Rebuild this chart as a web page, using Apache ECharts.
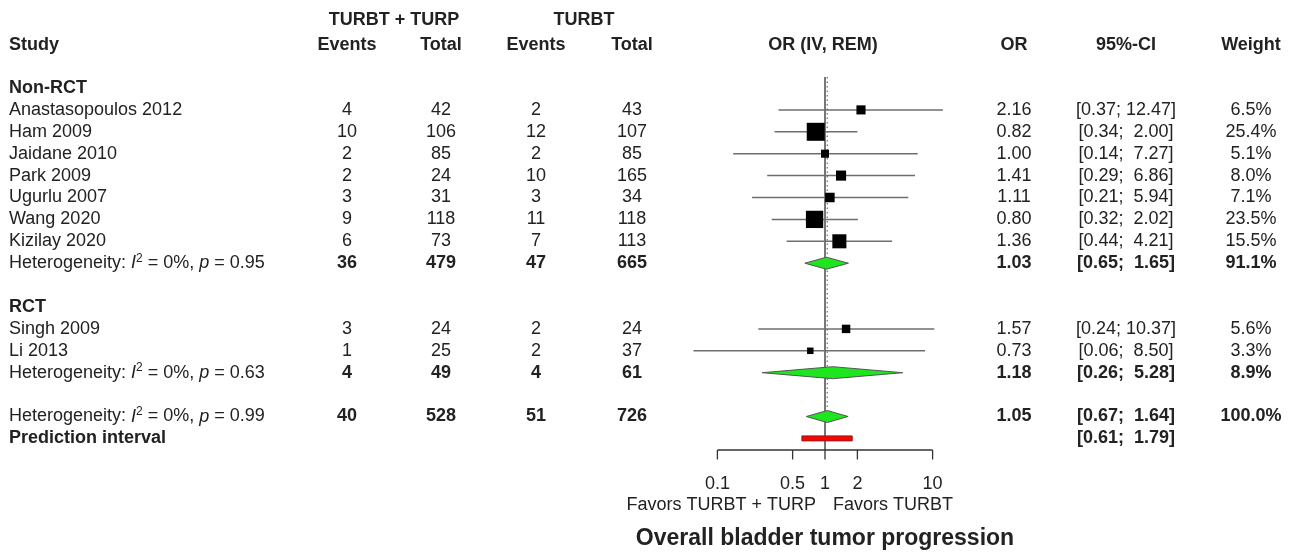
<!DOCTYPE html>
<html>
<head>
    <meta charset="utf-8">
    <style>
        html, body {
            height: 100%;
            margin: 0;
            padding: 0;
            background: #fff;
        }

        .container {
            width: 1293px;
            height: 554px;
        }
    </style>
</head>
<body>
<div id="main" class="container"></div>

<script src="https://cdn.jsdelivr.net/npm/echarts@6/dist/echarts.min.js"></script>
<script type="text/javascript">
// study level data
var studies = ['Anastasopoulos 2012', 'Ham 2009', 'Jaidane 2010', 'Park 2009', 'Ugurlu 2007', 'Wang 2020', 'Kizilay 2020', 'Singh 2009', 'Li 2013'];
var studyGroup = [0, 0, 0, 0, 0, 0, 0, 1, 1];
var eventsExp = [4, 10, 2, 2, 3, 9, 6, 3, 1];
var totalExp = [42, 106, 85, 24, 31, 118, 73, 24, 25];
var eventsCtl = [2, 12, 2, 10, 3, 11, 7, 2, 2];
var totalCtl = [43, 107, 85, 165, 34, 118, 113, 24, 37];
var oddsRatio = [2.16, 0.82, 1.00, 1.41, 1.11, 0.80, 1.36, 1.57, 0.73];
var ciLower = [0.37, 0.34, 0.14, 0.29, 0.21, 0.32, 0.44, 0.24, 0.06];
var ciUpper = [12.47, 2.00, 7.27, 6.86, 5.94, 2.02, 4.21, 10.37, 8.50];
var weights = [6.5, 25.4, 5.1, 8.0, 7.1, 23.5, 15.5, 5.6, 3.3];

// subgroup summaries
var groups = ['Non-RCT', 'RCT'];
var groupI2 = [0, 0];
var groupP = [0.95, 0.63];
var groupEventsExp = [36, 4];
var groupTotalExp = [479, 49];
var groupEventsCtl = [47, 4];
var groupTotalCtl = [665, 61];
var groupOR = [1.03, 1.18];
var groupLower = [0.65, 0.26];
var groupUpper = [1.65, 5.28];
var groupWeight = [91.1, 8.9];

// overall
var overallI2 = 0;
var overallP = 0.99;
var overallCounts = [40, 528, 51, 726];
var overallOR = [1.05, 0.67, 1.64];
var overallWeight = 100.0;
var predInterval = [0.61, 1.79];

var axisTicks = [0.1, 0.5, 1, 2, 10];
var favorsLabels = ['Favors TURBT + TURP', 'Favors TURBT'];
var chartTitle = 'Overall bladder tumor progression';

var FONT = '"Liberation Sans", Arial, sans-serif';
var TEXT = '#222';

// column x positions (px)
var col = {study: 9, evE: 347, totE: 441, evC: 536, totC: 632, or: 1014, ci: 1126, w: 1251};

// row layout
var r = 0;
var studyRows = [], groupHeadRows = [], groupSumRows = [];
for (var g = 0; g < groups.length; g++) {
    groupHeadRows.push(r); r++;
    for (var i = 0; i < studies.length; i++) {
        if (studyGroup[i] === g) { studyRows[i] = r; r++; }
    }
    groupSumRows.push(r); r++;
    r++;
}
var overallRow = r;
var predRow = r + 1;
var axisRow = 16.53;

function fmt(v) { return v.toFixed(2); }
function pad(s, n) { while (s.length < n) s = ' ' + s; return s; }
function ciText(lo, hi) { return '[' + fmt(lo) + '; ' + pad(fmt(hi), 5) + ']'; }

var rich = {
    n: {fontSize: 18, fontFamily: FONT, fill: TEXT, lineHeight: 22},
    i: {fontSize: 18, fontFamily: FONT, fontStyle: 'italic', fill: TEXT, lineHeight: 22},
    s: {fontSize: 12, fontFamily: FONT, fill: TEXT, verticalAlign: 'top', lineHeight: 22, padding: [0, 0, 9, 0]}
};
function hetText(i2, p) {
    return '{n|Heterogeneity: }{i|I}{s|2}{n| = ' + i2 + '%, }{i|p}{n| = ' + p.toFixed(2) + '}';
}

// text items
var texts = [];
function addText(row, x, text, align, bold, extra) {
    var t = {row: row, x: x, text: String(text), align: align || 'center', bold: !!bold};
    if (extra) for (var k in extra) t[k] = extra[k];
    texts.push(t);
}
addText(-3.1, (col.evE + col.totE) / 2, 'TURBT + TURP', 'center', true);
addText(-3.1, (col.evC + col.totC) / 2, 'TURBT', 'center', true);
addText(-1.96, col.study, 'Study', 'left', true);
addText(-1.96, col.evE, 'Events', 'center', true);
addText(-1.96, col.totE, 'Total', 'center', true);
addText(-1.96, col.evC, 'Events', 'center', true);
addText(-1.96, col.totC, 'Total', 'center', true);
addText(-1.96, 823, 'OR (IV, REM)', 'center', true);
addText(-1.96, col.or, 'OR', 'center', true);
addText(-1.96, col.ci, '95%-CI', 'center', true);
addText(-1.96, col.w, 'Weight', 'center', true);

for (var i = 0; i < studies.length; i++) {
    var rr = studyRows[i];
    addText(rr, col.study, studies[i], 'left');
    addText(rr, col.evE, eventsExp[i]);
    addText(rr, col.totE, totalExp[i]);
    addText(rr, col.evC, eventsCtl[i]);
    addText(rr, col.totC, totalCtl[i]);
    addText(rr, col.or, fmt(oddsRatio[i]));
    addText(rr, col.ci, ciText(ciLower[i], ciUpper[i]));
    addText(rr, col.w, weights[i].toFixed(1) + '%');
}
for (var g = 0; g < groups.length; g++) {
    addText(groupHeadRows[g], col.study, groups[g], 'left', true);
    var gr = groupSumRows[g];
    addText(gr, col.study, hetText(groupI2[g], groupP[g]), 'left', false, {rich: true});
    addText(gr, col.evE, groupEventsExp[g], 'center', true);
    addText(gr, col.totE, groupTotalExp[g], 'center', true);
    addText(gr, col.evC, groupEventsCtl[g], 'center', true);
    addText(gr, col.totC, groupTotalCtl[g], 'center', true);
    addText(gr, col.or, fmt(groupOR[g]), 'center', true);
    addText(gr, col.ci, ciText(groupLower[g], groupUpper[g]), 'center', true);
    addText(gr, col.w, groupWeight[g].toFixed(1) + '%', 'center', true);
}
addText(overallRow, col.study, hetText(overallI2, overallP), 'left', false, {rich: true});
addText(overallRow, col.evE, overallCounts[0], 'center', true);
addText(overallRow, col.totE, overallCounts[1], 'center', true);
addText(overallRow, col.evC, overallCounts[2], 'center', true);
addText(overallRow, col.totC, overallCounts[3], 'center', true);
addText(overallRow, col.or, fmt(overallOR[0]), 'center', true);
addText(overallRow, col.ci, ciText(overallOR[1], overallOR[2]), 'center', true);
addText(overallRow, col.w, overallWeight.toFixed(1) + '%', 'center', true);
addText(predRow, col.study, 'Prediction interval', 'left', true);
addText(predRow, col.ci, ciText(predInterval[0], predInterval[1]), 'center', true);

// axis-bound texts (x from the OR scale)
axisTicks.forEach(function (t) { addText(18.08, null, String(t), 'center', false, {xv: t}); });
addText(19.04, null, favorsLabels[0], 'right', false, {xv: 1, dx: -9});
addText(19.04, null, favorsLabels[1], 'left', false, {xv: 1, dx: 8});
addText(20.6, null, chartTitle, 'center', true, {xv: 1, size: 23});

var chart = echarts.init(document.getElementById('main'), null, {renderer: 'canvas'});

// pixel layout: x = 825 + 107.6*log10(v), y = 88 + 21.9*row
var pxPerDecade = 107.6, refX = 825;
var xMin = Math.pow(10, -refX / pxPerDecade);
var xMax = Math.pow(10, (1293 - refX) / pxPerDecade);
var rowH = 21.9, row0 = 88;
var yMin = -row0 / rowH;
var yMax = (554 - row0) / rowH;

var option = {
    animation: false,
    backgroundColor: '#fff',
    grid: {left: 0, right: 0, top: 0, bottom: 0},
    xAxis: {type: 'log', logBase: 10, min: xMin, max: xMax, show: false},
    yAxis: {type: 'value', inverse: true, min: yMin, max: yMax, show: false},
    series: [
        {
            // reference line at OR = 1 and dotted line at overall estimate
            type: 'custom',
            data: [[1, -0.5, axisRow, 0], [overallOR[0], -0.5, 14.57, 1]],
            renderItem: function (params, api) {
                var a = api.coord([api.value(0), api.value(1)]);
                var b = api.coord([api.value(0), api.value(2)]);
                var dotted = api.value(3) === 1;
                return {
                    type: 'line',
                    shape: {x1: a[0], y1: a[1], x2: b[0], y2: b[1]},
                    style: {stroke: dotted ? '#777' : '#555', lineWidth: dotted ? 1.3 : 1.6, lineDash: dotted ? [1.5, 3] : null}
                };
            }
        },
        {
            // study CIs and squares
            type: 'custom',
            data: studies.map(function (s, i) {
                return [ciLower[i], ciUpper[i], oddsRatio[i], studyRows[i], weights[i]];
            }),
            renderItem: function (params, api) {
                var rw = api.value(3);
                var lo = api.coord([api.value(0), rw]);
                var hi = api.coord([api.value(1), rw]);
                var c = api.coord([api.value(2), rw]);
                var s = 3.57 * Math.sqrt(api.value(4));
                return {
                    type: 'group',
                    children: [
                        {type: 'line', shape: {x1: lo[0], y1: lo[1], x2: hi[0], y2: hi[1]}, style: {stroke: '#6e6e6e', lineWidth: 1.5}},
                        {type: 'rect', shape: {x: c[0] - s / 2, y: c[1] - s / 2, width: s, height: s}, style: {fill: '#000'}}
                    ]
                };
            }
        },
        {
            // diamonds
            type: 'custom',
            data: [
                [groupLower[0], groupUpper[0], groupOR[0], groupSumRows[0]],
                [groupLower[1], groupUpper[1], groupOR[1], groupSumRows[1]],
                [overallOR[1], overallOR[2], overallOR[0], overallRow]
            ],
            renderItem: function (params, api) {
                var rw = api.value(3);
                var lo = api.coord([api.value(0), rw]);
                var hi = api.coord([api.value(1), rw]);
                var c = api.coord([api.value(2), rw]);
                var h = 6;
                return {
                    type: 'polygon',
                    shape: {points: [[lo[0], lo[1]], [c[0], c[1] - h], [hi[0], hi[1]], [c[0], c[1] + h]]},
                    style: {fill: '#1ee61e', stroke: '#555', lineWidth: 1}
                };
            }
        },
        {
            // prediction interval
            type: 'custom',
            data: [[predInterval[0], predInterval[1], predRow]],
            renderItem: function (params, api) {
                var lo = api.coord([api.value(0), api.value(2)]);
                var hi = api.coord([api.value(1), api.value(2)]);
                return {
                    type: 'rect',
                    shape: {x: lo[0], y: lo[1] - 2.5, width: hi[0] - lo[0], height: 5},
                    style: {fill: '#f00', stroke: '#8a2020', lineWidth: 1}
                };
            }
        },
        {
            // bottom axis
            type: 'custom',
            data: axisTicks.map(function (t) { return [t, axisRow]; }),
            renderItem: function (params, api) {
                var p = api.coord([api.value(0), api.value(1)]);
                var children = [
                    {type: 'line', shape: {x1: p[0], y1: p[1], x2: p[0], y2: p[1] + 9.5}, style: {stroke: '#333', lineWidth: 1.3}}
                ];
                if (params.dataIndex === 0) {
                    var q = api.coord([axisTicks[axisTicks.length - 1], api.value(1)]);
                    children.push({type: 'line', shape: {x1: p[0], y1: p[1], x2: q[0], y2: q[1]}, style: {stroke: '#333', lineWidth: 1.3}});
                }
                return {type: 'group', children: children};
            }
        },
        {
            // all text
            type: 'custom',
            data: texts.map(function (t) { return [1, t.row]; }),
            renderItem: function (params, api) {
                var t = texts[params.dataIndex];
                var p = api.coord([t.xv != null ? t.xv : 1, t.row]);
                var x = t.x != null ? t.x : p[0] + (t.dx || 0);
                var style = {
                    text: t.text,
                    x: x,
                    y: p[1],
                    align: t.align,
                    verticalAlign: 'middle',
                    fill: TEXT,
                    fontFamily: FONT,
                    fontSize: t.size || 18,
                    fontWeight: t.bold ? 'bold' : 'normal'
                };
                if (t.rich) style.rich = rich;
                return {type: 'text', style: style};
            }
        }
    ]
};

chart.setOption(option);
</script>
</body>
</html>
